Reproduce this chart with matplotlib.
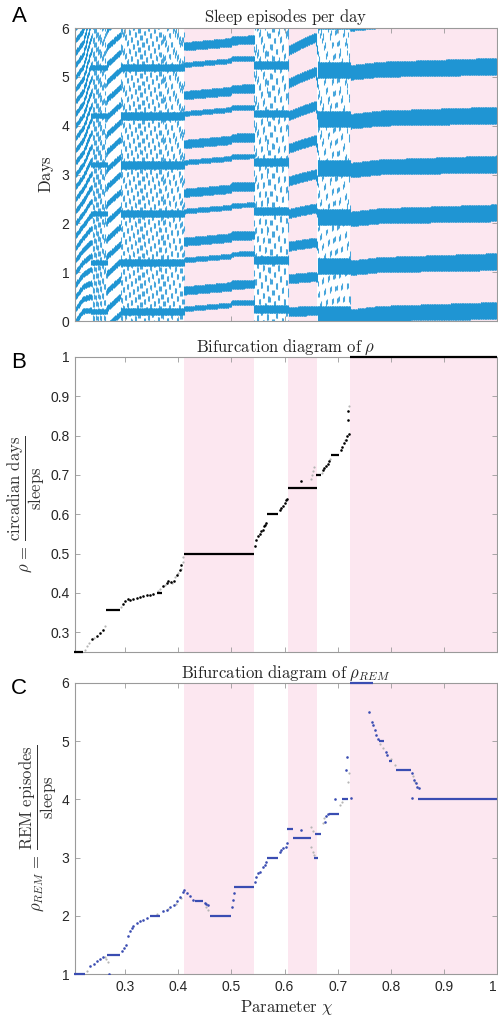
import numpy as np
import matplotlib
matplotlib.use('Agg')
import matplotlib.pyplot as plt

plt.rcParams['mathtext.fontset'] = 'cm'
plt.rcParams['font.family'] = ['Liberation Sans', 'DejaVu Sans']

# ---------------- data ----------------
XMIN, XMAX = 0.2055, 1.0
band_start = [0.411, 0.607, 0.724]
band_end = [0.5426, 0.661, 1.0]

# Panel B: rho plateaus
b_step_start = [0.2044, 0.264, 0.359, 0.4106, 0.567, 0.606, 0.659, 0.6875, 0.724]
b_step_end = [0.2206, 0.2906, 0.369, 0.5426, 0.5875, 0.661, 0.669, 0.703, 1.0]
b_step_val = [0.25, 0.357, 0.40, 0.50, 0.60, 0.667, 0.70, 0.75, 1.0]
# Panel B: black points between plateaus
b_pt_chi = [0.2375, 0.247, 0.253, 0.259, 0.2956, 0.300, 0.3056, 0.309, 0.3156, 0.322,
            0.328, 0.334, 0.341, 0.347, 0.353, 0.372, 0.378, 0.381, 0.386, 0.391,
            0.397, 0.403, 0.406, 0.544, 0.547, 0.550, 0.553, 0.556, 0.559, 0.562,
            0.564, 0.566, 0.5906, 0.594, 0.597, 0.600, 0.603, 0.605, 0.631, 0.672,
            0.675, 0.678, 0.681, 0.684, 0.706, 0.709, 0.7125, 0.716, 0.718, 0.719,
            0.720, 0.722]
b_pt_val = [0.283, 0.290, 0.298, 0.307, 0.372, 0.380, 0.385, 0.383, 0.386, 0.388,
            0.390, 0.392, 0.394, 0.396, 0.398, 0.417, 0.425, 0.430, 0.428, 0.430,
            0.447, 0.459, 0.470, 0.520, 0.535, 0.544, 0.550, 0.557, 0.561, 0.570,
            0.574, 0.578, 0.610, 0.616, 0.622, 0.629, 0.636, 0.640, 0.684, 0.712,
            0.718, 0.722, 0.728, 0.735, 0.764, 0.770, 0.781, 0.790, 0.800, 0.840,
            0.862, 0.803]
# Panel B: grey (non-converged) points
b_grey_chi = [0.224, 0.228, 0.232, 0.242, 0.262, 0.293, 0.362, 0.365, 0.375, 0.388,
              0.394, 0.400, 0.405, 0.408, 0.409, 0.650, 0.652, 0.654, 0.656, 0.670,
              0.686, 0.714, 0.721]
b_grey_val = [0.255, 0.264, 0.272, 0.286, 0.315, 0.365, 0.405, 0.410, 0.420, 0.425,
              0.440, 0.450, 0.462, 0.480, 0.492, 0.690, 0.700, 0.710, 0.720, 0.706,
              0.740, 0.790, 0.875]

# Panel C: rho_REM plateaus
c_step_start = [0.2044, 0.266, 0.347, 0.431, 0.4594, 0.505, 0.567, 0.6047, 0.6156,
                0.6547, 0.658, 0.684, 0.708, 0.724, 0.778, 0.7969, 0.8094, 0.852]
c_step_end = [0.225, 0.2906, 0.366, 0.447, 0.500, 0.5426, 0.5875, 0.6156, 0.650,
              0.6625, 0.669, 0.703, 0.720, 0.766, 0.7875, 0.803, 0.8388, 1.0]
c_step_val = [1.0, 1.333, 2.0, 2.25, 2.0, 2.5, 3.0, 3.5, 3.333,
              3.0, 3.4, 3.75, 4.0, 6.0, 5.0, 4.667, 4.5, 4.0]
# Panel C: blue points
c_pt_chi = [0.234, 0.2406, 0.247, 0.253, 0.259, 0.269, 0.2938, 0.298, 0.302, 0.306,
            0.309, 0.3125, 0.3156, 0.322, 0.328, 0.334, 0.341, 0.372, 0.378, 0.384,
            0.391, 0.397, 0.403, 0.408, 0.4106, 0.4156, 0.422, 0.428, 0.450, 0.452,
            0.455, 0.501, 0.503, 0.5044, 0.5438, 0.547, 0.550, 0.553, 0.559, 0.5625,
            0.566, 0.5906, 0.594, 0.597, 0.602, 0.604, 0.6313, 0.678, 0.681, 0.676,
            0.695, 0.7156, 0.717, 0.725, 0.7594, 0.7644, 0.767, 0.770, 0.773, 0.776,
            0.7906, 0.7938, 0.8406, 0.8438, 0.8469, 0.850, 0.853, 0.8406]
c_pt_val = [1.131, 1.177, 1.217, 1.257, 1.291, 1.0, 1.389, 1.446, 1.503, 1.646,
            1.731, 1.789, 1.829, 1.874, 1.903, 1.931, 1.960, 2.074, 2.103, 2.149,
            2.189, 2.246, 2.331, 2.417, 2.446, 2.400, 2.343, 2.274, 2.217, 2.200,
            2.180, 2.149, 2.274, 2.389, 2.589, 2.674, 2.731, 2.760, 2.846, 2.874,
            2.931, 3.103, 3.131, 3.160, 3.189, 3.246, 3.474, 3.720, 3.749, 3.617,
            4.0, 4.503, 4.731, 4.017, 5.503, 5.331, 5.274, 5.189, 5.103, 5.046,
            4.817, 4.760, 4.446, 4.331, 4.274, 4.217, 4.189, 4.017]
# Panel C: grey points
c_grey_chi = [0.2281, 0.262, 0.264, 0.267, 0.360, 0.380, 0.395, 0.405, 0.453, 0.456,
              0.650, 0.653, 0.650, 0.653, 0.656, 0.672, 0.675, 0.704, 0.708, 0.7219,
              0.719, 0.780, 0.785, 0.8075, 0.800, 0.842, 0.845]
c_grey_val = [1.046, 1.30, 1.25, 1.20, 2.03, 2.12, 2.20, 2.30, 2.15, 2.10,
              3.53, 3.45, 3.189, 3.103, 3.046, 3.589, 3.674, 3.903, 3.960, 4.446,
              4.30, 4.95, 4.88, 4.589, 4.70, 4.40, 4.30]

# Panel A: sleep-episode knots (onset phase, episode length, odd-episode shift/length; days)
a_phase_chi = [0.2055, 0.2206, 0.236, 0.266, 0.291, 0.36, 0.411, 0.499, 0.501, 0.5426,
               0.607, 0.661, 0.724, 0.78, 1.0]
a_phase_val = [0.18, 0.40, 0.45, 0.20, 0.45, 0.15, 0.04, 0.12, 0.16, 0.17,
               0.10, 0.12, 0.94, 1.00, 1.04]
a_dur_chi = [0.2055, 0.236, 0.2365, 0.265, 0.266, 0.291, 0.292, 0.410, 0.411, 0.5426,
             0.5435, 0.606, 0.607, 0.661, 0.662, 0.723, 0.724, 1.0]
a_dur_val = [0.11, 0.11, 0.10, 0.10, 0.12, 0.12, 0.10, 0.10, 0.17, 0.18,
             0.11, 0.11, 0.19, 0.19, 0.10, 0.10, 0.30, 0.35]
a_odd_chi = [0.4105, 0.411, 0.5426, 0.5427]
a_odd_shift = [0.0, 0.16, 0.16, 0.0]
a_odd_dur = [0.0, 0.10, 0.10, 0.0]
# daily anchor band seen in the non-locked (white) ranges: onset and width (days)
a_band_chi = [0.2359, 0.236, 0.265, 0.266, 0.2906, 0.2907, 0.4105, 0.411,
              0.5426, 0.5427, 0.6065, 0.607, 0.661, 0.6611, 0.7235, 0.724]
a_band_on = [0.15, 0.15, 0.15, 0.15, 0.12, 0.12, 0.12, 0.12,
             0.17, 0.17, 0.17, 0.17, 0.97, 0.97, 0.97, 0.97]
a_band_w = [0.0, 0.10, 0.10, 0.0, 0.0, 0.15, 0.15, 0.0,
            0.0, 0.16, 0.16, 0.0, 0.0, 0.33, 0.33, 0.0]
# rotation step of quasi-periodic (non-locked) orbits between neighbouring runs
quasi_rotation = 0.6180339887
run_width = 3  # columns per run

# ---------------- figure ----------------
W, H = 498, 1019
fig = plt.figure(figsize=(W / 100, H / 100), dpi=100)

PINK = '#fce7f0'
ABLUE = '#1f95d3'
ABLUE_Q = '#47a6dc'
CBLUE = '#3a4db2'
GREY = '#b5b5b5'
SPINE = '#9a9a9a'
TXT = '#262626'


def mk_ax(top, bottom):
    left, right = 75, 497
    ax = fig.add_axes([left / W, 1 - bottom / H, (right - left) / W, (bottom - top) / H])
    for s in ax.spines.values():
        s.set_color(SPINE)
        s.set_linewidth(0.8)
    ax.tick_params(direction='in', top=True, right=True, length=3.5, width=0.6,
                   color=SPINE, labelsize=10, labelcolor=TXT, pad=4)
    ax.set_xlim(XMIN, XMAX)
    ax.set_xticks([0.3, 0.4, 0.5, 0.6, 0.7, 0.8, 0.9, 1.0])
    for s, e in zip(band_start, band_end):
        ax.axvspan(s, e, color=PINK, lw=0, zorder=0)
    return ax


# ---- Panel A ----
axA = mk_ax(28, 321)
knot_chi = list(b_step_start) + list(b_step_end) + list(b_pt_chi)
knot_val = list(b_step_val) + list(b_step_val) + list(b_pt_val)
order = np.argsort(knot_chi, kind='stable')
knot_chi = np.array(knot_chi)[order]
knot_val = np.array(knot_val)[order]
cols = np.arange(XMIN + 0.0006, XMAX, 0.0012)
rho_c = np.interp(cols, knot_chi, knot_val)
ph_c = np.interp(cols, a_phase_chi, a_phase_val)
du_c = np.interp(cols, a_dur_chi, a_dur_val)
os_c = np.interp(cols, a_odd_chi, a_odd_shift)
od_c = np.interp(cols, a_odd_chi, a_odd_dur)
bo_c = np.interp(cols, a_band_chi, a_band_on)
bw_c = np.interp(cols, a_band_chi, a_band_w)
lock = {'x': [], 'y0': [], 'y1': []}
quasi = {'x': [], 'y0': [], 'y1': []}
for j, (c, r, p, d, osh, odd, bo, bw) in enumerate(
        zip(cols, rho_c, ph_c, du_c, os_c, od_c, bo_c, bw_c)):
    if bw > 0:
        g = j // run_width
        p0 = ((p / r + g * quasi_rotation) % 1.0) * r
    else:
        p0 = p % r
    k = np.arange(0, int(6 / r) + 3)
    t = p0 - r + r * k
    dur = np.full(k.shape, d)
    if odd > 0:
        t = t + np.where(k % 2 == 1, osh, 0.0)
        dur = np.where(k % 2 == 1, odd, d)
    t1 = t + dur
    keep = (t1 > 0) & (t < 6)
    tgt = quasi if bw > 0 else lock
    tgt['x'].extend([c] * keep.sum())
    tgt['y0'].extend(np.clip(t[keep], 0, 6))
    tgt['y1'].extend(np.clip(t1[keep], 0, 6))
    if bw > 0:
        days = np.arange(-1, 7)
        b0, b1 = days + bo, days + bo + bw
        kb = (b1 > 0) & (b0 < 6)
        lock['x'].extend([c] * kb.sum())
        lock['y0'].extend(np.clip(b0[kb], 0, 6))
        lock['y1'].extend(np.clip(b1[kb], 0, 6))
axA.vlines(quasi['x'], quasi['y0'], quasi['y1'], colors=ABLUE_Q, lw=0.75, zorder=2)
axA.vlines(lock['x'], lock['y0'], lock['y1'], colors=ABLUE, lw=0.75, zorder=2)
axA.set_ylim(0, 6)
axA.set_yticks(range(7))
axA.set_xticklabels([])
axA.set_title(r'$\mathrm{Sleep\ episodes\ per\ day}$', fontsize=12, color=TXT, pad=4)
axA.set_ylabel(r'$\mathrm{Days}$', fontsize=12, color=TXT, labelpad=4)

# ---- Panel B ----
axB = mk_ax(357, 652)
axB.hlines(b_step_val, b_step_start, b_step_end, colors='black', lw=1.6, zorder=3,
           clip_on=False)
axB.scatter(b_grey_chi, b_grey_val, s=2.5, color=GREY, lw=0, zorder=2)
axB.scatter(b_pt_chi, b_pt_val, s=3.5, color='black', lw=0, zorder=3)
axB.set_ylim(0.25, 1.0)
axB.set_yticks([0.3, 0.4, 0.5, 0.6, 0.7, 0.8, 0.9, 1.0])
axB.set_yticklabels(['0.3', '0.4', '0.5', '0.6', '0.7', '0.8', '0.9', '1'])
axB.set_xticklabels([])
axB.set_title(r'$\mathrm{Bifurcation\ diagram\ of\ }\rho$', fontsize=12, color=TXT, pad=4)
axB.set_ylabel(r'$\rho\,=\,\dfrac{\mathrm{circadian\ days}}{\mathrm{sleeps}}$',
               fontsize=12, color='#333333', labelpad=2)

# ---- Panel C ----
axC = mk_ax(683, 974)
axC.hlines(c_step_val, c_step_start, c_step_end, colors=CBLUE, lw=1.6, zorder=3,
           clip_on=False)
axC.scatter(c_grey_chi, c_grey_val, s=2.5, color=GREY, lw=0, zorder=2)
axC.scatter(c_pt_chi, c_pt_val, s=3.5, color=CBLUE, lw=0, zorder=3)
axC.set_ylim(1, 6)
axC.set_yticks(range(1, 7))
axC.set_xticklabels(['0.3', '0.4', '0.5', '0.6', '0.7', '0.8', '0.9', '1'])
lbls = axC.get_xticklabels()
lbls[-1].set_horizontalalignment('right')
axC.set_title(r'$\mathrm{Bifurcation\ diagram\ of\ }\rho_{REM}$', fontsize=12, color=TXT, pad=4)
axC.set_ylabel(r'$\rho_{REM}\,=\,\dfrac{\mathrm{REM\ episodes}}{\mathrm{sleeps}}$',
               fontsize=12, color='#333333', labelpad=2)
axC.set_xlabel(r'$\mathrm{Parameter\ }\chi$', fontsize=12, color=TXT, labelpad=3)

# panel letters
for lab, y in [('A', 16), ('B', 363), ('C', 688)]:
    fig.text(19 / W, 1 - y / H, lab, fontsize=16, ha='center', va='center', color='black')

fig.savefig('out.png', dpi=100)
